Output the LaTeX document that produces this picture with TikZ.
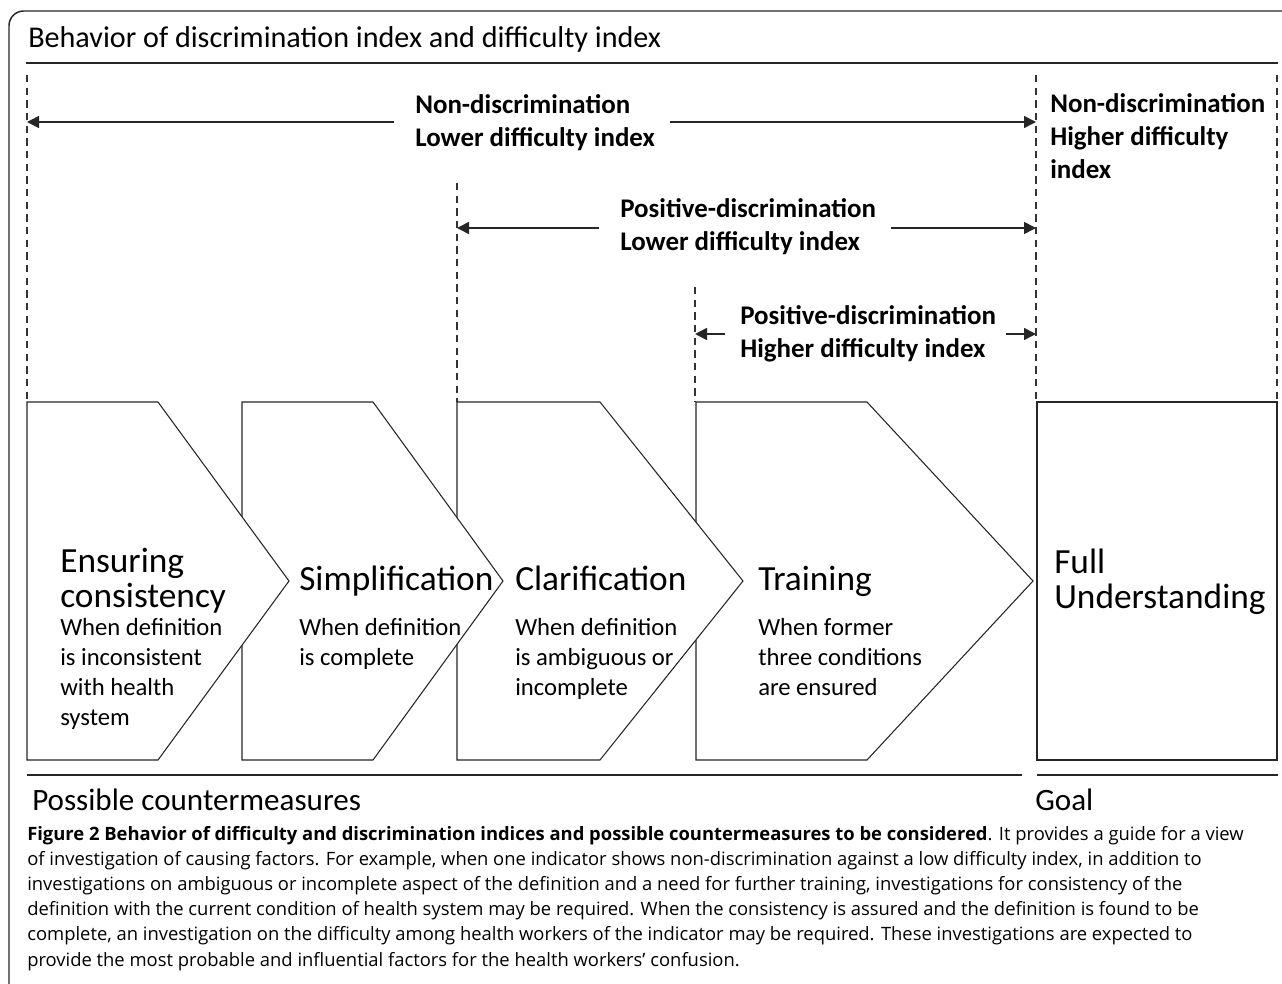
\documentclass[tikz,border=0pt]{standalone}
\usepackage{fontspec}
\setmainfont{Carlito}
\newfontfamily\capfont{Open Sans}
\usetikzlibrary{arrows.meta}

\begin{document}
\begin{tikzpicture}[x=0.75pt, y=-0.75pt,
	chev/.style={draw=black!85, line width=0.8pt, fill=white},
	dashline/.style={black!80, line width=0.9pt, dash pattern=on 5.5pt off 4pt},
	arr/.style={-{Triangle[length=9pt,width=9pt]}, black!85, line width=1.2pt},
	rule/.style={black!85, line width=1.4pt},
	lab/.style={font=\bfseries\fontsize{20.2}{25}\selectfont, align=left, inner sep=0pt},
	head/.style={font=\fontsize{26.5}{26}\selectfont, align=left, inner sep=0pt},
	sub/.style={font=\fontsize{18.5}{22.5}\selectfont, align=left, inner sep=0pt}]
	
	\useasboundingbox (0,0) rectangle (1282,984);
	
	\draw[black!85, line width=1.1pt, rounded corners=11pt] (9,1000) -- (9,11) -- (1300,11);
	
	\node[font=\fontsize{22.6}{27}\selectfont, anchor=base west, inner sep=0pt] (title) at (28,48) {Behavior of discrimination index and difficulty index};
	\draw[rule] (26,63) -- (1278,63);
	
	\coordinate (d1) at (27,75);
	\coordinate (d2) at (457,183);
	\coordinate (d3) at (695,287);
	\coordinate (d4) at (1036,75);
	\coordinate (d5) at (1277,75);
	
	\draw[dashline] (d1) -- (27,402);
	\draw[dashline] (d2) -- (457,402);
	\draw[dashline] (d3) -- (695,402);
	\draw[dashline] (d4) -- (1036,402);
	\draw[dashline] (d5) -- (1277,402);
	
	\draw[chev] (1037,402) rectangle (1277,760);
	\draw[chev] (696,402) -- (867,402) -- (1033,581) -- (867,760) -- (696,760) -- cycle;
	\draw[chev] (457,402) -- (600,402) -- (743,581) -- (600,760) -- (457,760) -- cycle;
	\draw[chev] (242,402) -- (373,402) -- (503,581) -- (373,760) -- (242,760) -- cycle;
	\draw[chev] (27,402) -- (158,402) -- (289,581) -- (158,760) -- (27,760) -- cycle;
	
	\node[lab, anchor=base west] (nlow) at (415,147) {Non-discrimination\\Lower difficulty index};
	\node[lab, anchor=base west] (plow) at (620,251) {Positive-discrimination\\Lower difficulty index};
	\node[lab, anchor=base west] (phigh) at (740,358) {Positive-discrimination\\Higher difficulty index};
	\node[lab, anchor=base west] (nhigh) at (1050,179) {Non-discrimination\\Higher difficulty\\index};
	
	\coordinate (a1l) at (27,122);
	\coordinate (a1r) at (1036,122);
	\coordinate (a2l) at (457,228);
	\coordinate (a2r) at (1036,228);
	\coordinate (a3l) at (695,334);
	\coordinate (a3r) at (1036,334);
	
	\draw[arr, shorten <=15.5pt] (nlow.west |- a1l) -- (a1l);
	\draw[arr, shorten <=11pt] (nlow.east |- a1r) -- (a1r);
	\draw[arr, shorten <=15.5pt] (plow.west |- a2l) -- (a2l);
	\draw[arr, shorten <=11pt] (plow.east |- a2r) -- (a2r);
	\draw[arr, shorten <=11pt] (phigh.west |- a3l) -- (a3l);
	\draw[arr, shorten <=7pt] (phigh.east |- a3r) -- (a3r);
	
	\node[head, anchor=base west] (ens) at (60,607) {Ensuring\\consistency};
	\node[sub, anchor=base west] (enst) at (60,725) {When definition\\is inconsistent\\with health\\system};
	\node[head, anchor=base west] (simp) at (299,590) {Simplification};
	\node[sub, anchor=base west] (simpt) at (299,665) {When definition\\is complete};
	\node[head, anchor=base west] (clar) at (515,590) {Clarification};
	\node[sub, anchor=base west] (clart) at (515,695) {When definition\\is ambiguous or\\incomplete};
	\node[head, anchor=base west] (train) at (758,590) {Training};
	\node[sub, anchor=base west] (traint) at (758,695) {When former\\three conditions\\are ensured};
	\node[head, anchor=base west] (full) at (1054,608) {Full\\Understanding};
	
	\draw[rule] (27,775) -- (1022,775);
	\draw[rule] (1037,775) -- (1278,775);
	
	\node[font=\fontsize{23.3}{27}\selectfont, anchor=base west, inner sep=0pt] (counter) at (32,810) {Possible countermeasures};
	\node[font=\fontsize{23.3}{27}\selectfont, anchor=base west, inner sep=0pt] (goal) at (1035,810) {Goal};
	
	\node[font=\capfont\fontsize{13.8}{18.9}\selectfont, align=left, anchor=base west, inner sep=0pt] (caption) at (27,966) {\textbf{Figure 2 Behavior of difficulty and discrimination indices and possible countermeasures to be considered}. It provides a guide for a view\\of investigation of causing factors. For example, when one indicator shows non-discrimination against a low difficulty index, in addition to\\investigations on ambiguous or incomplete aspect of the definition and a need for further training, investigations for consistency of the\\definition with the current condition of health system may be required. When the consistency is assured and the definition is found to be\\complete, an investigation on the difficulty among health workers of the indicator may be required. These investigations are expected to\\provide the most probable and influential factors for the health workers’ confusion.};
	
\end{tikzpicture}
\end{document}
